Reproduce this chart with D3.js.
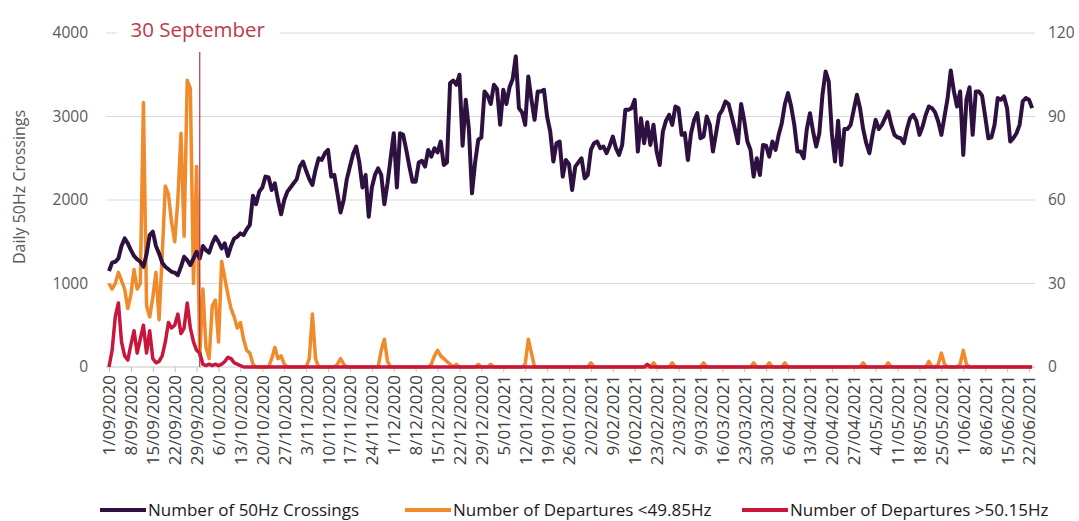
<!DOCTYPE html>
<html>
<head>
<meta charset="utf-8">
<script src="https://cdn.jsdelivr.net/npm/d3@7"></script>
<style>
  body { margin: 0; background: #fff; }
  svg { display: block; font-family: "Open Sans", sans-serif; }
</style>
</head>
<body>
<svg id="chart" width="1079" height="521"></svg>
<script>
// daily series, starting 1 Sep 2020
var startDate = new Date(2020, 8, 1);
var lastTickDate = new Date(2021, 5, 22);
var markerDate = new Date(2020, 8, 30);
var markerLabel = '30 September';
var yLabel = 'Daily 50Hz Crossings';
var leftTicks = [0, 1000, 2000, 3000, 4000];
var rightTicks = [0, 30, 60, 90, 120];
var seriesNames = ['Number of 50Hz Crossings', 'Number of Departures <49.85Hz', 'Number of Departures >50.15Hz'];

// left axis
var crossings = [
  1150,1250,1260,1300,1450,1540,1480,1400,1330,1290,
  1260,1200,1350,1580,1620,1450,1360,1250,1200,1170,
  1140,1130,1100,1200,1320,1280,1220,1300,1380,1300,
  1450,1400,1370,1480,1560,1500,1420,1480,1330,1450,
  1540,1560,1600,1580,1650,1700,2050,1950,2100,2150,
  2280,2270,2120,2200,2000,1830,2000,2100,2150,2200,
  2250,2400,2460,2350,2250,2180,2360,2500,2480,2560,
  2600,2280,2300,2080,1850,2000,2250,2400,2550,2640,
  2450,2150,2300,1800,2150,2300,2380,2300,1950,2200,
  2500,2800,2150,2800,2780,2600,2400,2220,2220,2450,
  2470,2400,2600,2520,2620,2570,2700,2420,2450,3400,
  3430,3380,3500,2650,3200,2850,2080,2450,2720,2750,
  3300,3250,3150,3380,3330,2900,3320,3150,3350,3450,
  3720,3100,3050,2900,3480,3200,2960,3300,3300,3320,
  3000,2820,2460,2680,2700,2280,2480,2430,2120,2400,
  2450,2500,2260,2300,2600,2680,2700,2620,2640,2560,
  2650,2760,2620,2540,2660,3080,3080,3100,3200,2580,
  2980,2680,2930,2660,2900,2580,2420,2820,2950,3020,
  2900,3120,3100,2780,2800,2480,2800,2960,3040,2740,
  2760,3000,2900,2580,2800,3020,3080,3180,3150,3000,
  2850,2680,3150,2950,2700,2600,2280,2500,2300,2660,
  2650,2520,2700,2600,2780,2920,3150,3280,3120,2900,
  2580,2580,2500,2850,3040,2820,2640,2800,3260,3540,
  3420,2800,2460,2950,2420,2850,2850,2900,3080,3260,
  3100,2850,2680,2560,2780,2960,2850,2900,2980,3060,
  2900,2780,2750,2740,2680,2850,2980,3020,2950,2780,
  2880,3020,3120,3100,3050,2940,2780,3000,3220,3550,
  3300,3120,3300,2540,3200,3350,2780,3300,3300,3250,
  3000,2740,2750,2900,3220,3200,3240,3100,2700,2740,
  2800,2900,3180,3220,3200,3100
];

// right axis
var departuresLow = [
  30,28,30,34,31,28,21,26,35,28,
  30,95,22,18,25,34,17,40,65,62,
  52,45,60,84,47,103,100,30,72,4,
  28,7,3,22,24,9,38,32,26,21,
  18,14,16,10,6,5,1,0,0,0,
  0,0,3,7,3,4,1,0,0,0,
  0,0,0,0,3,19,3,0,0,0,
  0,0,0,1,3,1,0,0,0,0,
  0,0,0,0,0,0,0,6,10,2,
  0,0,0,0,0,0,0,0,0,0,
  0,0,0,1,4,6,4,3,2,1,
  0,1,0,0,0,0,0,0,1,0,
  0,0,1,0,0,0,0,0,0,0,
  0,0,0,1,10,5,0,0,0,0,
  0,0,0,0,0,0,0,0,0,0,
  0,0,0,0,1.5,0,0,0,0,0,
  0,0,0,0,0,0,0,0,0,0,
  0,0,0,0,1.5,0,0,0,0,0,
  1.5,0,0,0,0,0,0,0,0,0,
  1.5,0,0,0,0,0,0,0,0,0,
  0,0,0,0,0,0,1.5,0,0,0,
  0,1.5,0,0,0,0,1.5,0,0,0,
  0,0,0,0,0,0,0,0,0,0,
  0,0,0,0,0,0,0,0,0,0,
  0,1.5,0,0,0,0,0,0,0,1.5,
  0,0,0,0,0,0,0,0,0,0,
  0,0,2,0,0,1,5,1,0,0,
  0,0,1,6,1,0,0,0,0,0,
  0,0,0,0,0,0,0,0,0,0,
  0,0,0,0,0,0
];

var departuresHigh = [
  0,6,18,23,9,4,2.5,8,13,5,
  10,15,5,13,3,1.5,2,4,9,16,
  14,15,19,12,14,23,14,9,6,5,
  1,0.5,1,0.5,1,0.5,1,2,3.5,3,
  1.5,1,0.5,0,0,0,0,0,0,0,
  0,0,0,0,0,0,0,0,0,0,
  0,0,0,0,0,0,0,0,0,0,
  0,0,0,0,0,0,0,0,0,0,
  0,0,0,0,0,0,0,0,0,0,
  0,0,0,0,0,0,0,0,0,0,
  0,0,0,0,0,0,0,0,0,0,
  0,0,0,0,0,0,0,0,0,0,
  0,0,0,0,0,0,0,0,0,0,
  0,0,0,0,0,0,0,0,0,0,
  0,0,0,0,0,0,0,0,0,0,
  0,0,0,0,0,0,0,0,0,0,
  0,0,0,0,0,0,0,0,0,0,
  0,0,1,0,0,0,0,0,0,0,
  0,0,0,0,0,0,0,0,0,0,
  0,0,0,0,0,0,0,0,0,0,
  0,0,0,0,0,0,0,0,0,0,
  0,0,0,0,0,0,0,0,0,0,
  0,0,0,0,0,0,0,0,0,0,
  0,0,0,0,0,0,0,0,0,0,
  0,0,0,0,0,0,0,0,0,0,
  0,0,0,0,0,0,0,0,0,0,
  0,0,0,0,0,0,0,0,0,0,
  0,0,0,0,0,0,0,0,0,0,
  0,0,0,0,0,0,0,0,0,0,
  0,0,0,0,0,0
];

var colors = ['#2e1141', '#f08a2a', '#c8163c'];

function drawChart() {
  var svg = d3.select('#chart');
  var plotLeft = 106, plotRight = 1035, plotTop = 33, plotBottom = 367;

  var x = d3.scaleTime()
    .domain([startDate, lastTickDate])
    .range([109, 1029]);
  var yLeft = d3.scaleLinear().domain([0, 4000]).range([plotBottom, plotTop]);
  var yRight = d3.scaleLinear().domain([0, 120]).range([plotBottom, plotTop]);

  function toPoints(arr) {
    return arr.map(function(v, i) { return { date: d3.timeDay.offset(startDate, i), value: v }; });
  }

  //gridlines
  svg.append('g').selectAll('line')
    .data(leftTicks)
    .enter().append('line')
      .attr('x1', plotLeft).attr('x2', plotRight)
      .attr('y1', function(d) { return yLeft(d); })
      .attr('y2', function(d) { return yLeft(d); })
      .attr('stroke', '#d9d9d9')
      .attr('stroke-width', 1);

  //left + right axes
  var leftAxis = svg.append('g')
    .attr('transform', 'translate(' + (plotLeft - 18) + ',0)')
    .call(d3.axisLeft(yLeft).tickValues(leftTicks).tickFormat(d3.format('d')).tickSize(0).tickPadding(0));
  var rightAxis = svg.append('g')
    .attr('transform', 'translate(' + (plotRight + 13) + ',0)')
    .call(d3.axisRight(yRight).tickValues(rightTicks).tickFormat(d3.format('d')).tickSize(0).tickPadding(0));
  [leftAxis, rightAxis].forEach(function(a) {
    a.select('.domain').remove();
    a.selectAll('text').attr('fill', '#595959').style('font-size', '15.5px').style('font-family', '"Open Sans", sans-serif');
  });

  //x axis, weekly ticks
  var xTicks = d3.timeTuesday.range(startDate, d3.timeDay.offset(lastTickDate, 1));
  var xAxis = svg.append('g')
    .attr('transform', 'translate(0,' + plotBottom + ')')
    .call(d3.axisBottom(x).tickValues(xTicks).tickFormat(d3.timeFormat('%-d/%m/%Y')).tickSize(5).tickPadding(4));
  xAxis.select('.domain').attr('stroke', '#d9d9d9').attr('d', 'M' + plotLeft + ',0H' + plotRight);
  xAxis.selectAll('line').attr('stroke', '#bfbfbf');
  xAxis.selectAll('text')
    .attr('fill', '#404040')
    .style('font-size', '17px')
    .style('font-family', '"Open Sans", sans-serif')
    .attr('text-anchor', 'end')
    .attr('transform', 'rotate(-90)')
    .attr('x', -8)
    .attr('y', 0)
    .attr('dy', '0.35em');

  //y label
  svg.append('text')
    .attr('transform', 'translate(25,187) rotate(-90)')
    .attr('text-anchor', 'middle')
    .attr('fill', '#595959')
    .style('font-size', '16px')
    .text(yLabel);

  //lines
  var lineLeft = d3.line().x(function(d) { return x(d.date); }).y(function(d) { return yLeft(d.value); });
  var lineRight = d3.line().x(function(d) { return x(d.date); }).y(function(d) { return yRight(d.value); });

  var series = [
    { data: toPoints(departuresLow), line: lineRight, color: colors[1], width: 3.5 },
    { data: toPoints(departuresHigh), line: lineRight, color: colors[2], width: 3.5 },
    { data: toPoints(crossings), line: lineLeft, color: colors[0], width: 4 }
  ];
  svg.append('g').selectAll('path')
    .data(series)
    .enter().append('path')
      .attr('d', function(s) { return s.line(s.data); })
      .attr('fill', 'none')
      .attr('stroke', function(s) { return s.color; })
      .attr('stroke-width', function(s) { return s.width; })
      .attr('stroke-linejoin', 'round');

  //30 september marker
  var mx = x(markerDate);
  svg.append('line')
    .attr('x1', mx).attr('x2', mx)
    .attr('y1', 52).attr('y2', plotBottom)
    .attr('stroke', '#b8324b')
    .attr('stroke-width', 1.2);
  var mLabelBg = svg.append('rect').attr('fill', '#fff');
  var mLabel = svg.append('text')
    .attr('x', mx - 2)
    .attr('y', 37)
    .attr('text-anchor', 'middle')
    .attr('fill', '#c0394b')
    .style('font-size', '20.5px')
    .text(markerLabel);
  var bb = mLabel.node().getBBox();
  mLabelBg.attr('x', bb.x - 14).attr('y', bb.y).attr('width', bb.width + 28).attr('height', bb.height);

  //legend
  var legendX = [100, 405, 742];
  var legend = svg.append('g').selectAll('g')
    .data(seriesNames)
    .enter().append('g')
      .attr('transform', function(d, i) { return 'translate(' + legendX[i] + ',510)'; });
  legend.append('line')
    .attr('x1', 0).attr('x2', 46)
    .attr('stroke', function(d, i) { return colors[i]; })
    .attr('stroke-width', 4);
  legend.append('text')
    .attr('x', 48)
    .attr('y', 6)
    .attr('fill', '#1a1a1a')
    .style('font-size', '17px')
    .text(function(d) { return d; });
}

drawChart();
</script>
</body>
</html>
